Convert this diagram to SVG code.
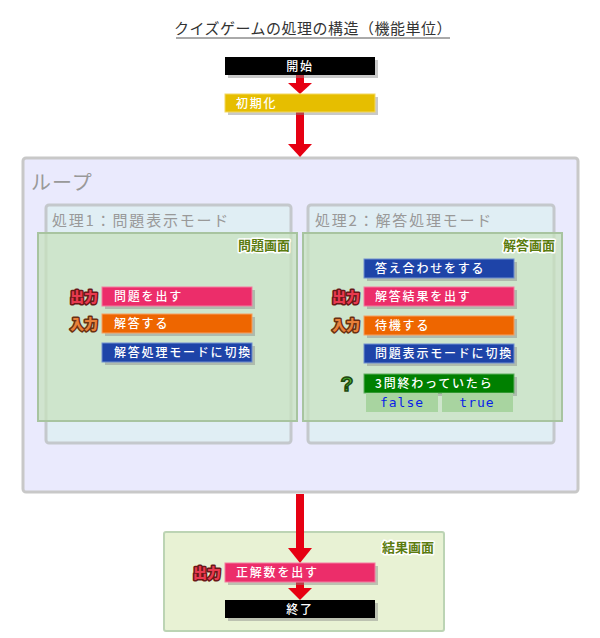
<svg xmlns="http://www.w3.org/2000/svg" width="600" height="638" viewBox="0 0 600 638">
<defs>
<style>
.t{font-family:"Noto Sans CJK JP","Noto Sans",sans-serif}
.bt{font-family:"Noto Sans CJK JP","Noto Sans",sans-serif;font-size:12px;fill:#fff;font-weight:500;letter-spacing:1.8px}
.sh{fill:#888;opacity:0.45}
.scr{fill:#c6e2bc;fill-opacity:0.72;stroke:#a8c4a0;stroke-width:2}
.mode{fill:#e0eef4;stroke:#c4c8cc;stroke-width:3}
.scrl{font-family:"Noto Sans CJK JP",sans-serif;font-size:13px;font-weight:bold;fill:#5b7c10;stroke:#fff;stroke-width:3;paint-order:stroke;stroke-linejoin:round}
.io{font-family:"Noto Sans CJK JP",sans-serif;font-size:14px;font-weight:900;stroke-width:3;paint-order:stroke;stroke-linejoin:round}
.arr{fill:#e60012}
.tf{font-family:"DejaVu Sans Mono","Liberation Mono",monospace;font-size:13px;fill:#0a1ee8;letter-spacing:1px}
</style>
</defs>
<rect width="600" height="638" fill="#fff"/>
<g id="title">
<text class="t" x="313" y="34" font-size="15" fill="#333" text-anchor="middle" letter-spacing="0.5">クイズゲームの処理の構造（機能単位）</text>
<line x1="176" y1="38" x2="450" y2="38" stroke="#555" stroke-width="1"/>
</g>
<g id="loop">
<rect x="23" y="158" width="555" height="334" rx="3" fill="#eaeafd" stroke="#c8c8c8" stroke-width="3"/>
<text class="t" x="31" y="190" font-size="20" fill="#999" letter-spacing="1">ループ</text>
</g>
<g id="mode1">
<rect class="mode" x="46" y="205" width="245" height="238" rx="3"/>
<text class="t" x="52" y="226" font-size="15" fill="#999" letter-spacing="1.8">処理1：問題表示モード</text>
</g>
<g id="mode2">
<rect class="mode" x="308" y="205" width="246" height="238" rx="3"/>
<text class="t" x="315" y="226" font-size="15" fill="#999" letter-spacing="1.8">処理2：解答処理モード</text>
</g>
<g id="screen1">
<rect class="scr" x="38" y="233" width="259" height="188"/>
<text class="scrl" x="290" y="250" text-anchor="end">問題画面</text>
</g>
<g id="screen2">
<rect class="scr" x="303" y="233" width="259" height="188"/>
<text class="scrl" x="555" y="250" text-anchor="end">解答画面</text>
</g>
<g id="result-screen">
<rect x="164" y="532" width="280" height="99" rx="2" fill="#e8f2d4" stroke="#bcd4b4" stroke-width="2"/>
<text class="scrl" x="434" y="552" text-anchor="end">結果画面</text>
</g>
<g id="connectors">
<rect class="arr" x="296" y="75" width="8" height="9"/>
<polygon class="arr" points="288,83 312,83 300,94"/>
<rect class="arr" x="296" y="112" width="8" height="33"/>
<polygon class="arr" points="288,144 312,144 300,157"/>
<rect class="arr" x="296" y="494" width="8" height="55"/>
<polygon class="arr" points="288,548 312,548 300,563"/>
<rect class="arr" x="296" y="582" width="8" height="7"/>
<polygon class="arr" points="288,588 312,588 300,600"/>
</g>
<g id="start">
<rect class="sh" x="228" y="60" width="150" height="18"/>
<rect x="225" y="57" width="150" height="18" fill="#000"/>
<text class="bt" x="300" y="71" text-anchor="middle">開始</text>
</g>
<g id="init">
<rect class="sh" x="228" y="97" width="150" height="18"/>
<rect x="225" y="94" width="150" height="18" fill="#e6be00" stroke="#f3d860" stroke-width="1"/>
<text class="bt" x="236" y="108">初期化</text>
</g>
<g id="q-out">
<text class="io" x="98" y="302" text-anchor="end" fill="#e83a50" stroke="#6a1818">出力</text>
<rect class="sh" x="105" y="290" width="150" height="19"/>
<rect x="102" y="287" width="150" height="19" fill="#ec2d6a" stroke="#f47ca0" stroke-width="1"/>
<text class="bt" x="114" y="301">問題を出す</text>
</g>
<g id="q-in">
<text class="io" x="98" y="329" text-anchor="end" fill="#e8803a" stroke="#6a3010">入力</text>
<rect class="sh" x="105" y="317" width="150" height="19"/>
<rect x="102" y="314" width="150" height="19" fill="#ee6600" stroke="#f6a060" stroke-width="1"/>
<text class="bt" x="114" y="328">解答する</text>
</g>
<g id="q-switch">
<rect class="sh" x="105" y="346" width="150" height="19"/>
<rect x="102" y="343" width="150" height="19" fill="#1e44a8" stroke="#7090d0" stroke-width="1"/>
<text class="bt" x="114" y="357">解答処理モードに切換</text>
</g>
<g id="check">
<rect class="sh" x="367" y="262" width="150" height="19"/>
<rect x="364" y="259" width="150" height="19" fill="#1e44a8" stroke="#7090d0" stroke-width="1"/>
<text class="bt" x="375" y="273">答え合わせをする</text>
</g>
<g id="a-out">
<text class="io" x="360" y="302" text-anchor="end" fill="#e83a50" stroke="#6a1818">出力</text>
<rect class="sh" x="367" y="290" width="150" height="19"/>
<rect x="364" y="287" width="150" height="19" fill="#ec2d6a" stroke="#f47ca0" stroke-width="1"/>
<text class="bt" x="375" y="301">解答結果を出す</text>
</g>
<g id="a-in">
<text class="io" x="360" y="330" text-anchor="end" fill="#e8803a" stroke="#6a3010">入力</text>
<rect class="sh" x="367" y="319" width="150" height="19"/>
<rect x="364" y="316" width="150" height="19" fill="#ee6600" stroke="#f6a060" stroke-width="1"/>
<text class="bt" x="375" y="330">待機する</text>
</g>
<g id="a-switch">
<rect class="sh" x="367" y="347" width="150" height="19"/>
<rect x="364" y="344" width="150" height="19" fill="#1e44a8" stroke="#7090d0" stroke-width="1"/>
<text class="bt" x="375" y="358">問題表示モードに切換</text>
</g>
<g id="cond">
<text x="347" y="391" text-anchor="middle" font-family="Liberation Sans,sans-serif" font-size="21" font-weight="bold" fill="#4cb030" stroke="#1e4a10" stroke-width="1.5">?</text>
<rect class="sh" x="367" y="377" width="150" height="19"/>
<rect x="364" y="374" width="150" height="19" fill="#008000" stroke="#60b060" stroke-width="1"/>
<text class="bt" x="375" y="388">3問終わっていたら</text>
</g>
<g id="false">
<rect x="366" y="393" width="72" height="19" fill="#a8d4a0"/>
<text class="tf" x="402" y="407" text-anchor="middle">false</text>
</g>
<g id="true">
<rect x="442" y="393" width="71" height="19" fill="#a8d4a0"/>
<text class="tf" x="477" y="407" text-anchor="middle">true</text>
</g>
<g id="score">
<text class="io" x="221" y="578" text-anchor="end" fill="#e83a50" stroke="#6a1818">出力</text>
<rect class="sh" x="228" y="566" width="150" height="19"/>
<rect x="225" y="563" width="150" height="19" fill="#ec2d6a" stroke="#f47ca0" stroke-width="1"/>
<text class="bt" x="236" y="577">正解数を出す</text>
</g>
<g id="end">
<rect class="sh" x="228" y="603" width="150" height="18"/>
<rect x="225" y="600" width="150" height="18" fill="#000"/>
<text class="bt" x="300" y="614" text-anchor="middle">終了</text>
</g>
</svg>
